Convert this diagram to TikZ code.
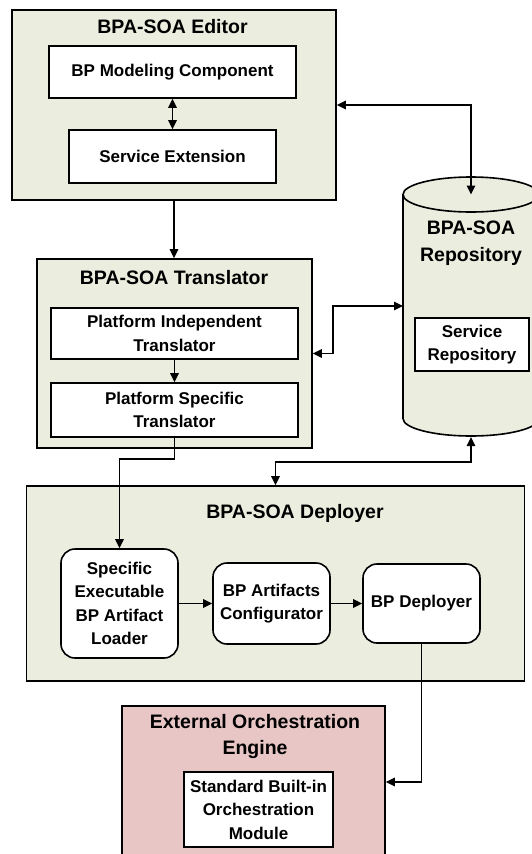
\documentclass[tikz,border=0pt]{standalone}
\usepackage{fontspec}
\setmainfont{Liberation Sans}
\usetikzlibrary{arrows.meta}

\definecolor{panelgreen}{HTML}{EBEDDF}
\definecolor{enginepink}{HTML}{E8C6C6}

\newcommand\innerfont{\fontsize{17}{23.5}\selectfont\bfseries}
\newcommand\headfont{\fontsize{19.5}{26.5}\selectfont\bfseries}

\begin{document}
\begin{tikzpicture}[x=1pt, y=1pt,
  line width=1.6pt,
  >={Triangle[length=9pt,width=8.5pt]},
  panel/.style={draw, fill=panelgreen, inner sep=0pt},
  unit/.style={draw, fill=white, inner sep=0pt, align=center, font=\innerfont},
  stage/.style={unit, rounded corners=14pt},
  heading/.style={inner sep=0pt, align=center, font=\headfont},
]
\useasboundingbox (0,0) rectangle (532,-854);
\clip (0,0) rectangle (532,-854);

% ---- Editor ----
\node[panel, minimum width=324, minimum height=190] (editor) at (174,-105) {};
\node[heading] (edtitle) at (172.5,-27) {BPA-SOA Editor};
\node[unit, minimum width=247, minimum height=52] (bpm) at (172.5,-72) {BP Modeling Component};
\node[unit, minimum width=207, minimum height=53] (svcext) at (172.5,-156.5) {Service Extension};

% ---- Translator ----
\node[panel, minimum width=275, minimum height=189] (translator) at (174.5,-353.5) {};
\node[heading] (trtitle) at (174,-278) {BPA-SOA Translator};
\node[unit, minimum width=247, minimum height=51] (pit) at (174.5,-333.5) {Platform Independent\\Translator};
\node[unit, minimum width=247, minimum height=54] (pst) at (174.5,-410) {Platform Specific\\Translator};

% ---- Repository (cylinder) ----
\path[draw, fill=panelgreen]
  (403,-194.5) -- (403,-418.5)
  arc[start angle=180, end angle=360, x radius=68, y radius=17.5]
  -- (539,-194.5)
  arc[start angle=0, end angle=180, x radius=68, y radius=17.5] -- cycle;
\draw (403,-194.5) arc[start angle=180, end angle=360, x radius=68, y radius=17.5];
\coordinate (repotop) at (471,-194.5);
\coordinate (repobot) at (471,-437);
\coordinate (repoleft) at (403,-306);
\node[heading] (repotitle) at (471,-243) {BPA-SOA\\Repository};
\node[unit, minimum width=114, minimum height=53] (svcrepo) at (472,-344.5) {Service\\Repository};

% ---- Deployer ----
\node[panel, minimum width=498, minimum height=195] (deployer) at (275.5,-583.5) {};
\node[heading] (dptitle) at (295,-513) {BPA-SOA Deployer};
\node[stage, minimum width=117, minimum height=109] (loader) at (119.5,-603.5) {Specific\\Executable\\BP Artifact\\Loader};
\node[stage, minimum width=117, minimum height=81] (config) at (271.5,-603.5) {BP Artifacts\\Configurator};
\node[stage, minimum width=117, minimum height=79] (bpdep) at (421.5,-603.5) {BP Deployer};

% ---- External engine ----
\node[draw, fill=enginepink, inner sep=0pt, minimum width=263, minimum height=152] (eoe) at (253.5,-782) {};
\node[heading] (eoetitle) at (255,-736.5) {External Orchestration\\Engine};
\node[unit, minimum width=149, minimum height=75] (sbm) at (258.5,-809.5) {Standard Built-in\\Orchestration\\Module};

% ---- Connectors ----
\draw[<->] (bpm) -- (svcext);
\draw[->] (editor.south) -- (editor.south |- translator.north);
\draw[->] (pit) -- (pst);
\draw[<->] (editor.east) -| (repotop);
\draw[<->] (translator.east) -- ++(20,0) |- (repoleft);
\draw[<->] (deployer.north) -- ++(0,23) -| (repobot);
\draw[->] (pst.south) -- ++(0,-21) -| (loader.north);
\draw[->] (loader) -- (config);
\draw[->] (config) -- (bpdep);
\draw[->] (bpdep.south) |- (eoe.east);
\end{tikzpicture}
\end{document}
